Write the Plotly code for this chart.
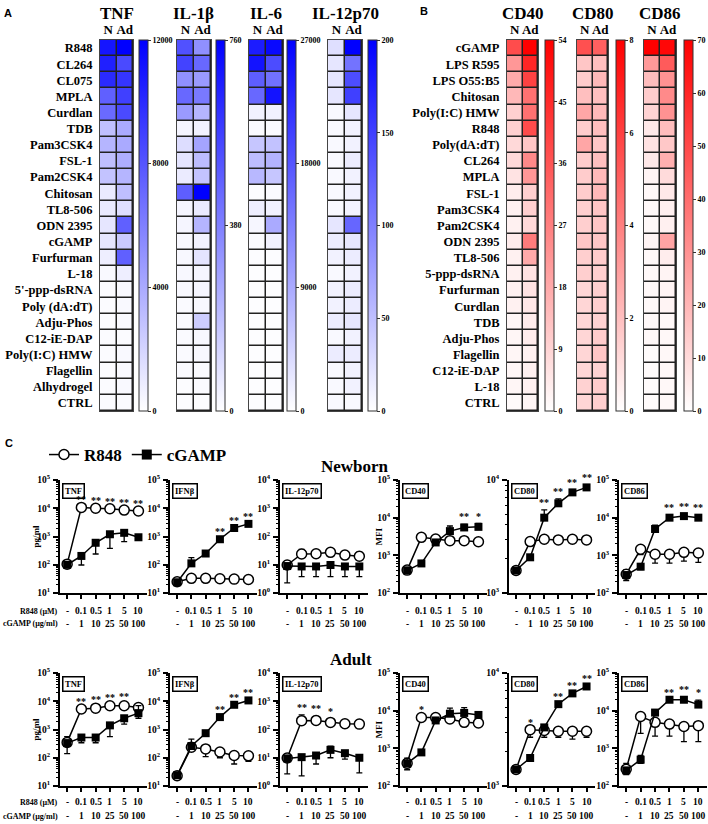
import math
import plotly.graph_objects as go

W, H = 708, 824
SERIF = "Liberation Serif"
SANS = "Liberation Sans"

# ---------------- Panel A data (cytokines, N = newborn, Ad = adult) ----------------
rows_A = ["R848", "CL264", "CL075", "MPLA", "Curdlan", "TDB", "Pam3CSK4", "FSL-1",
          "Pam2CSK4", "Chitosan", "TL8-506", "ODN 2395", "cGAMP", "Furfurman", "L-18",
          "5'-ppp-dsRNA", "Poly (dA:dT)", "Adju-Phos", "C12-iE-DAP", "Poly(I:C) HMW",
          "Flagellin", "Alhydrogel", "CTRL"]
TNF_N = [11000, 10500, 10000, 7500, 7000, 3000, 3500, 3000, 2800, 1000, 1000, 1200, 1200,
         800, 300, 200, 200, 200, 200, 200, 200, 200, 200]
TNF_Ad = [12000, 8500, 9500, 9000, 8500, 4000, 4000, 3800, 3500, 3000, 1500, 7500, 2500,
          7500, 800, 300, 300, 300, 200, 300, 300, 300, 200]
IL1b_N = [520, 560, 330, 450, 300, 30, 100, 80, 60, 480, 30, 30, 20, 20, 20, 20, 15, 15,
          15, 15, 15, 10, 10]
IL1b_Ad = [330, 450, 300, 400, 220, 40, 270, 200, 180, 760, 60, 220, 40, 80, 30, 30, 20,
           150, 20, 20, 15, 15, 10]
IL6_N = [24000, 25000, 17000, 16000, 1500, 500, 6000, 7000, 7500, 300, 1800, 1000, 500,
         300, 200, 200, 200, 200, 200, 200, 200, 200, 200]
IL6_Ad = [26000, 19000, 15000, 25000, 1500, 500, 6500, 8000, 6000, 500, 1500, 9000, 1500,
          300, 200, 200, 200, 200, 200, 200, 200, 200, 200]
IL12_N = [25, 20, 20, 20, 5, 5, 5, 5, 5, 5, 5, 20, 15, 10, 5, 10, 10, 15, 5, 15, 5, 5, 5]
IL12_Ad = [200, 110, 140, 150, 20, 10, 10, 15, 10, 10, 10, 120, 20, 15, 10, 15, 15, 20,
           10, 15, 10, 10, 5]

# ---------------- Panel B data (surface markers) ----------------
rows_B = ["cGAMP", "LPS R595", "LPS O55:B5", "Chitosan", "Poly(I:C) HMW", "R848",
          "Poly(dA:dT)", "CL264", "MPLA", "FSL-1", "Pam3CSK4", "Pam2CSK4", "ODN 2395",
          "TL8-506", "5-ppp-dsRNA", "Furfurman", "Curdlan", "TDB", "Adju-Phos",
          "Flagellin", "C12-iE-DAP", "L-18", "CTRL"]
CD40_N = [38, 22, 18, 15, 10, 10, 8, 8, 6, 4, 3, 3, 4, 3, 3, 3, 3, 2, 2, 2, 2, 2, 1]
CD40_Ad = [54, 46, 40, 30, 30, 38, 12, 25, 22, 10, 10, 8, 28, 18, 6, 6, 5, 4, 4, 3, 3, 3, 2]
CD80_N = [5.5, 1.8, 1.6, 2.0, 2.8, 1.6, 2.8, 1.6, 1.6, 1.6, 1.5, 1.5, 1.8, 1.5, 1.5, 1.3,
          1.3, 1.3, 1.3, 1.3, 1.3, 1.4, 1.3]
CD80_Ad = [5.0, 2.0, 2.2, 2.0, 2.2, 2.0, 1.8, 2.0, 2.2, 2.2, 1.8, 1.8, 1.8, 1.6, 1.5, 1.5,
           1.5, 1.4, 1.6, 1.8, 1.4, 1.6, 1.5]
CD86_N = [70, 28, 18, 14, 12, 6, 8, 6, 3, 2, 2, 2, 3, 2, 2, 2, 2, 2, 2, 1, 1, 1, 1]
CD86_Ad = [68, 45, 30, 32, 30, 18, 15, 22, 10, 6, 4, 4, 25, 5, 3, 3, 3, 2, 2, 2, 2, 2, 2]

# ---------------- Panel C data ----------------
dose_R848 = ["-", "0.1", "0.5", "1", "5", "10"]
dose_cGAMP = ["-", "1", "10", "25", "50", "100"]

# Newborn
nb_TNF_R = [105, 10700, 10000, 9600, 8600, 8000]
nb_TNF_R_up = [20, 0, 0, 0, 0, 0]
nb_TNF_R_dn = [25, 0, 0, 0, 0, 0]
nb_TNF_C = [100, 205, 600, 1200, 1350, 940]
nb_TNF_C_up = [0, 0, 0, 0, 0, 0]
nb_TNF_C_dn = [0, 107, 360, 820, 690, 0]
nb_TNF_stars = ["", "**", "**", "**", "**", "**"]

nb_IFN_R = [25, 33, 33, 32, 31, 30]
nb_IFN_R_up = [0, 0, 0, 0, 0, 0]
nb_IFN_R_dn = [0, 0, 0, 0, 0, 0]
nb_IFN_C = [24, 112, 250, 800, 2000, 2800]
nb_IFN_C_up = [4, 66, 0, 0, 0, 0]
nb_IFN_C_dn = [3, 0, 0, 0, 0, 0]
nb_IFN_stars = ["", "", "", "**", "**", "**"]

nb_IL12_R = [9.8, 24, 24.5, 27.5, 22, 20]
nb_IL12_R_up = [3.7, 11, 10, 8, 8, 8]
nb_IL12_R_dn = [0, 0, 0, 0, 0, 0]
nb_IL12_C = [9, 8.7, 8.7, 9.8, 8.7, 8.7]
nb_IL12_C_up = [0, 0, 0, 0, 0, 0]
nb_IL12_C_dn = [6.7, 4.9, 4.9, 6, 4.9, 4.9]
nb_IL12_stars = ["", "", "", "", "", ""]

nb_CD40_R = [405, 3000, 2700, 2450, 2450, 2300]
nb_CD40_R_up = [0, 0, 0, 0, 0, 0]
nb_CD40_R_dn = [0, 0, 0, 0, 0, 0]
nb_CD40_C = [400, 610, 2200, 4400, 5500, 5700]
nb_CD40_C_up = [0, 0, 0, 1600, 1100, 1300]
nb_CD40_C_dn = [0, 0, 0, 0, 0, 0]
nb_CD40_stars = ["", "", "", "", "**", "*"]

nb_CD80_R = [1580, 2850, 2990, 2950, 2990, 2950]
nb_CD80_R_up = [0, 0, 0, 0, 0, 0]
nb_CD80_R_dn = [0, 0, 0, 0, 0, 0]
nb_CD80_C = [1580, 2070, 4640, 6220, 7770, 8600]
nb_CD80_C_up = [0, 0, 790, 600, 400, 400]
nb_CD80_C_dn = [0, 0, 0, 0, 0, 0]
nb_CD80_stars = ["", "", "**", "**", "**", "**"]

nb_CD86_R = [315, 1450, 1070, 1070, 1200, 1150]
nb_CD86_R_up = [95, 0, 0, 0, 0, 0]
nb_CD86_R_dn = [100, 400, 450, 450, 500, 500]
nb_CD86_C = [300, 500, 5000, 10000, 11000, 10000]
nb_CD86_C_up = [0, 0, 1300, 1500, 1500, 1500]
nb_CD86_C_dn = [0, 80, 0, 0, 0, 0]
nb_CD86_stars = ["", "", "", "**", "**", "**"]

# Adult
ad_TNF_R = [350, 5300, 5700, 6900, 6900, 6000]
ad_TNF_R_up = [210, 0, 700, 500, 800, 2000]
ad_TNF_R_dn = [210, 0, 0, 0, 0, 0]
ad_TNF_C = [330, 520, 520, 1400, 2500, 3800]
ad_TNF_C_up = [0, 70, 70, 0, 0, 3200]
ad_TNF_C_dn = [0, 180, 180, 840, 950, 1300]
ad_TNF_stars = ["", "**", "**", "**", "**", ""]

ad_IFN_R = [23, 235, 205, 160, 120, 117]
ad_IFN_R_up = [3, 220, 0, 0, 0, 0]
ad_IFN_R_dn = [3, 0, 95, 60, 60, 42]
ad_IFN_C = [24, 260, 740, 2750, 7500, 10700]
ad_IFN_C_up = [0, 0, 0, 0, 0, 0]
ad_IFN_C_dn = [0, 0, 0, 0, 0, 0]
ad_IFN_stars = ["", "", "", "**", "**", "**"]

ad_IL12_R = [9.8, 205, 210, 178, 160, 155]
ad_IL12_R_up = [3.7, 125, 80, 50, 60, 60]
ad_IL12_R_dn = [0, 0, 0, 0, 0, 0]
ad_IL12_C = [9.5, 10.5, 12, 19, 14.5, 10]
ad_IL12_C_up = [0, 0, 0, 7, 0, 0]
ad_IL12_C_dn = [6.8, 8.2, 6, 9, 5.5, 7.1]
ad_IL12_stars = ["", "**", "**", "*", "", ""]

ad_CD40_R = [400, 6600, 6600, 6000, 4900, 4700]
ad_CD40_R_up = [0, 0, 0, 0, 0, 0]
ad_CD40_R_dn = [130, 0, 0, 1200, 0, 0]
ad_CD40_C = [400, 780, 5500, 8300, 8700, 7700]
ad_CD40_C_up = [150, 0, 0, 3400, 3300, 0]
ad_CD40_C_dn = [0, 0, 0, 0, 0, 0]
ad_CD40_stars = ["", "*", "", "", "", ""]

ad_CD80_R = [1400, 3150, 3100, 3050, 3050, 3050]
ad_CD80_R_up = [0, 0, 0, 0, 0, 0]
ad_CD80_R_dn = [0, 450, 400, 350, 450, 350]
ad_CD80_C = [1400, 1770, 3300, 5300, 6600, 7600]
ad_CD80_C_up = [0, 0, 0, 0, 0, 0]
ad_CD80_C_dn = [0, 0, 0, 0, 0, 0]
ad_CD80_stars = ["", "*", "", "**", "**", "**"]

ad_CD86_R = [280, 7000, 4900, 4400, 3800, 4000]
ad_CD86_R_up = [120, 0, 0, 0, 0, 0]
ad_CD86_R_dn = [80, 4500, 2800, 2300, 2300, 2500]
ad_CD86_C = [260, 500, 8900, 19500, 19500, 14500]
ad_CD86_C_up = [0, 150, 0, 0, 3000, 4500]
ad_CD86_C_dn = [0, 100, 0, 0, 0, 0]
ad_CD86_stars = ["", "", "", "**", "**", "*"]

# ---------------- helpers ----------------
def px_x(p):
    return p / W


def px_y(p):
    return 1 - p / H


def axnames(i):
    xs = "x" if i == 1 else f"x{i}"
    ys = "y" if i == 1 else f"y{i}"
    xk = "xaxis" if i == 1 else f"xaxis{i}"
    yk = "yaxis" if i == 1 else f"yaxis{i}"
    return xs, ys, xk, yk


fig = go.Figure()
layout = {}
anns = []
shapes = []

BLUE = [[0, "#FFFFFF"], [1, "#0000FF"]]
RED = [[0, "#FFFFFF"], [1, "#FF0000"]]

HM_TOP, HM_BOT = 40, 411
heatmaps = [
    ("TNF", TNF_N, TNF_Ad, rows_A, 12000, [0, 4000, 8000, 12000], (100, 133), 139, BLUE, True),
    ("IL-1β", IL1b_N, IL1b_Ad, rows_A, 760, [0, 380, 760], (177, 211), 216, BLUE, False),
    ("IL-6", IL6_N, IL6_Ad, rows_A, 27000, [0, 9000, 18000, 27000], (249, 283), 287, BLUE, False),
    ("IL-12p70", IL12_N, IL12_Ad, rows_A, 200, [0, 50, 100, 150, 200], (328, 362), 368, BLUE, False),
    ("CD40", CD40_N, CD40_Ad, rows_B, 54, [0, 9, 18, 27, 36, 45, 54], (507, 538), 545, RED, True),
    ("CD80", CD80_N, CD80_Ad, rows_B, 8, [0, 2, 4, 6, 8], (577, 608), 616, RED, False),
    ("CD86", CD86_N, CD86_Ad, rows_B, 70, [0, 10, 20, 30, 40, 50, 60, 70], (644, 676), 684, RED, False),
]

i = 0
for title, zn, za, rows, zmax, tv, (xa, xb), cbx, cs, showlab in heatmaps:
    i += 1
    xs, ys, xk, yk = axnames(i)
    z = [[n, a] for n, a in zip(zn, za)]
    fig.add_trace(go.Heatmap(
        z=z, x=["N", "Ad"], y=rows, colorscale=cs, zmin=0, zmax=zmax,
        xgap=1.5, ygap=1.5, xaxis=xs, yaxis=ys, hoverinfo="skip",
        colorbar=dict(x=px_x(cbx), xanchor="left", xref="paper", y=px_y(HM_TOP),
                      yanchor="top", yref="paper",
                      len=(HM_BOT - HM_TOP) / H, lenmode="fraction", thickness=9,
                      outlinewidth=1, outlinecolor="#333", tickmode="array", tickvals=tv,
                      tickformat="d", ticks="outside",
                      ticklen=3, tickcolor="#333", xpad=0, ypad=0,
                      tickfont=dict(family=SERIF, size=8, color="black", weight="bold"))))
    layout[xk] = dict(domain=[px_x(xa), px_x(xb)], anchor=ys, side="top", type="category",
                      range=[-0.5, 1.5], tickmode="array", tickvals=["N", "Ad"],
                      ticktext=["N", "Ad"], tickangle=0, ticks="", showline=True, mirror=True,
                      linecolor="#444", linewidth=1, showgrid=False, zeroline=False,
                      automargin=False,
                      tickfont=dict(family=SERIF, size=13, color="black", weight="bold"),
                      ticklabelstandoff=0, fixedrange=True)
    layout[yk] = dict(domain=[px_y(HM_BOT), px_y(HM_TOP)], anchor=xs, type="category",
                      autorange="reversed", ticks="", showline=True, mirror=True,
                      linecolor="#444", linewidth=1, showgrid=False, zeroline=False,
                      showticklabels=showlab, ticklabelstandoff=4, automargin=False,
                      tickmode="array", tickvals=rows, ticktext=rows, tickangle=0,
                      tickfont=dict(family=SERIF, size=12.5, color="black", weight="bold"))
    shapes.append(dict(type="rect", xref=f"{xs} domain", yref=f"{ys} domain", x0=0, x1=1,
                       y0=0, y1=1, fillcolor="#222", line=dict(width=0), layer="below"))
    anns.append(dict(text=title, x=px_x((xa + xb) / 2), y=px_y(13), xref="paper", yref="paper",
                     showarrow=False, xanchor="center", yanchor="middle",
                     font=dict(family=SERIF, size=17, color="black", weight="bold")))

# ---------------- line plots ----------------
cols_x = [(60, 147), (170, 257), (280, 368), (400, 487), (509, 595), (619, 707)]
rows_y = [(480, 593), (673, 786)]
dose_rows = [(611, 623.5), (802, 816)]
yranges = [(1, 5), (1, 5), (0, 4), (2, 5), (3, 4), (2, 5)]
labels = ["TNF", "IFNβ", "IL-12p70", "CD40", "CD80", "CD86"]

newborn = [
    (nb_TNF_R, nb_TNF_R_up, nb_TNF_R_dn, nb_TNF_C, nb_TNF_C_up, nb_TNF_C_dn, nb_TNF_stars),
    (nb_IFN_R, nb_IFN_R_up, nb_IFN_R_dn, nb_IFN_C, nb_IFN_C_up, nb_IFN_C_dn, nb_IFN_stars),
    (nb_IL12_R, nb_IL12_R_up, nb_IL12_R_dn, nb_IL12_C, nb_IL12_C_up, nb_IL12_C_dn, nb_IL12_stars),
    (nb_CD40_R, nb_CD40_R_up, nb_CD40_R_dn, nb_CD40_C, nb_CD40_C_up, nb_CD40_C_dn, nb_CD40_stars),
    (nb_CD80_R, nb_CD80_R_up, nb_CD80_R_dn, nb_CD80_C, nb_CD80_C_up, nb_CD80_C_dn, nb_CD80_stars),
    (nb_CD86_R, nb_CD86_R_up, nb_CD86_R_dn, nb_CD86_C, nb_CD86_C_up, nb_CD86_C_dn, nb_CD86_stars),
]
adult = [
    (ad_TNF_R, ad_TNF_R_up, ad_TNF_R_dn, ad_TNF_C, ad_TNF_C_up, ad_TNF_C_dn, ad_TNF_stars),
    (ad_IFN_R, ad_IFN_R_up, ad_IFN_R_dn, ad_IFN_C, ad_IFN_C_up, ad_IFN_C_dn, ad_IFN_stars),
    (ad_IL12_R, ad_IL12_R_up, ad_IL12_R_dn, ad_IL12_C, ad_IL12_C_up, ad_IL12_C_dn, ad_IL12_stars),
    (ad_CD40_R, ad_CD40_R_up, ad_CD40_R_dn, ad_CD40_C, ad_CD40_C_up, ad_CD40_C_dn, ad_CD40_stars),
    (ad_CD80_R, ad_CD80_R_up, ad_CD80_R_dn, ad_CD80_C, ad_CD80_C_up, ad_CD80_C_dn, ad_CD80_stars),
    (ad_CD86_R, ad_CD86_R_up, ad_CD86_R_dn, ad_CD86_C, ad_CD86_C_up, ad_CD86_C_dn, ad_CD86_stars),
]

xpos = list(range(6))
circ = dict(symbol="circle", size=10, color="white", line=dict(color="black", width=1.5))
sq = dict(symbol="square", size=8, color="black", line=dict(color="black", width=0))
tickfont = dict(family=SERIF, size=9.5, color="black", weight="bold")
rowfont = dict(family=SERIF, size=8, color="black", weight="bold")

for r, group in enumerate([newborn, adult]):
    top, bot = rows_y[r]
    for c, (R, Ru, Rd, C, Cu, Cd, stars) in enumerate(group):
        i += 1
        xs, ys, xk, yk = axnames(i)
        xa, xb = cols_x[c]
        lo, hi = yranges[c]
        fig.add_trace(go.Scatter(
            x=xpos, y=R, mode="lines+markers", xaxis=xs, yaxis=ys, showlegend=False,
            line=dict(color="black", width=1.5), marker=circ, hoverinfo="skip",
            error_y=dict(type="data", symmetric=False, array=Ru, arrayminus=Rd,
                         color="black", thickness=1.3, width=3)))
        fig.add_trace(go.Scatter(
            x=xpos, y=C, mode="lines+markers", xaxis=xs, yaxis=ys, showlegend=False,
            line=dict(color="black", width=1.5), marker=sq, hoverinfo="skip",
            error_y=dict(type="data", symmetric=False, array=Cu, arrayminus=Cd,
                         color="black", thickness=1.3, width=3)))
        layout[xk] = dict(domain=[px_x(xa), px_x(xb)], anchor=ys, range=[-0.5, 5.6],
                          tickvals=xpos, showticklabels=False, ticks="outside", ticklen=4,
                          tickwidth=1.5, tickcolor="black", showline=True, linewidth=2,
                          linecolor="black", showgrid=False, zeroline=False, automargin=False)
        layout[yk] = dict(domain=[px_y(bot), px_y(top)], anchor=xs, type="log",
                          range=[lo, hi], tickmode="array",
                          tickvals=[10 ** k for k in range(lo, hi + 1)],
                          ticktext=[f"10<sup>{k}</sup>" for k in range(lo, hi + 1)],
                          ticks="outside", ticklen=5, tickwidth=1.5, tickcolor="black",
                          showline=True, linewidth=2, linecolor="black", showgrid=False,
                          zeroline=False, tickfont=tickfont, ticklabelstandoff=1,
                          automargin=False,
                          minor=dict(ticks="outside", ticklen=2.5, tickwidth=1,
                                     tickcolor="black", tickmode="array", showgrid=False,
                                     tickvals=[m * 10 ** k for k in range(lo, hi)
                                               for m in range(2, 10)]))
        # panel label box
        anns.append(dict(text=labels[c], xref=f"{xs} domain", yref=f"{ys} domain",
                         x=0.02, y=0.975, xanchor="left", yanchor="top", showarrow=False,
                         bordercolor="black", borderwidth=1.5, borderpad=1.5, bgcolor="white",
                         font=dict(family=SERIF, size=8.5, color="black", weight="bold")))
        # significance stars
        for k in range(6):
            if stars[k]:
                topv = max(R[k] + Ru[k], C[k] + Cu[k])
                anns.append(dict(text=stars[k], xref=xs, yref=ys, x=k, y=math.log10(topv),
                                 xanchor="center", yanchor="bottom", yshift=0,
                                 showarrow=False,
                                 font=dict(family=SERIF, size=10, color="black", weight="bold")))
        # dose rows
        yr1, yr2 = dose_rows[r]
        for k in range(6):
            anns.append(dict(text=dose_R848[k], xref=xs, yref="paper", x=k, y=px_y(yr1),
                             xanchor="center", yanchor="middle", showarrow=False, font=tickfont))
            anns.append(dict(text=dose_cGAMP[k], xref=xs, yref="paper", x=k, y=px_y(yr2),
                             xanchor="center", yanchor="middle", showarrow=False, font=tickfont))
        if c == 0:
            anns.append(dict(text="R848 (µM)", xref="paper", yref="paper", x=px_x(60),
                             y=px_y(yr1), xanchor="right", yanchor="middle", showarrow=False,
                             font=rowfont))
            anns.append(dict(text="cGAMP (µg/ml)", xref="paper", yref="paper", x=px_x(60),
                             y=px_y(yr2), xanchor="right", yanchor="middle", showarrow=False,
                             font=rowfont))
            anns.append(dict(text="pg/ml", xref="paper", yref="paper", x=px_x(35),
                             y=px_y((top + bot) / 2), textangle=-90, xanchor="center",
                             yanchor="middle", showarrow=False,
                             font=dict(family=SERIF, size=9, color="black", weight="bold")))
        if c == 3:
            anns.append(dict(text="MFI", xref="paper", yref="paper", x=px_x(378),
                             y=px_y((top + bot) / 2), textangle=-90, xanchor="center",
                             yanchor="middle", showarrow=False,
                             font=dict(family=SERIF, size=9, color="black", weight="bold")))

# legend-only traces
fig.add_trace(go.Scatter(x=[None], y=[None], mode="lines+markers", name="R848",
                         xaxis="x8", yaxis="y8", line=dict(color="black", width=1.5),
                         marker=circ))
fig.add_trace(go.Scatter(x=[None], y=[None], mode="lines+markers", name="cGAMP",
                         xaxis="x8", yaxis="y8", line=dict(color="black", width=1.5),
                         marker=dict(symbol="square", size=10, color="black")))

# panel letters and group titles
for txt, x, y in [("A", 8, 13), ("B", 424, 11), ("C", 9, 443)]:
    anns.append(dict(text=txt, xref="paper", yref="paper", x=px_x(x), y=px_y(y),
                     xanchor="center", yanchor="middle", showarrow=False,
                     font=dict(family=SANS, size=11, color="black", weight="bold")))
for txt, x, y in [("Newborn", 355, 466), ("Adult", 351, 659)]:
    anns.append(dict(text=txt, xref="paper", yref="paper", x=px_x(x), y=px_y(y),
                     xanchor="center", yanchor="middle", showarrow=False,
                     font=dict(family=SERIF, size=17, color="black", weight="bold")))

layout.update(dict(
    width=W, height=H, margin=dict(l=0, r=0, t=0, b=0, autoexpand=False),
    paper_bgcolor="white", plot_bgcolor="white",
    font=dict(family=SERIF, color="black"),
    showlegend=True,
    legend=dict(orientation="h", x=px_x(44), y=px_y(437), xanchor="left", yanchor="top",
                font=dict(family=SERIF, size=17, color="black", weight="bold"),
                bgcolor="rgba(0,0,0,0)", itemwidth=30, tracegroupgap=0),
    annotations=anns, shapes=shapes,
))
fig.update_layout(**layout)
# remove the browser's default 8px body margin so the figure sits at the page origin
fig.write_html("out.html", config={"displayModeBar": False},
               post_script="document.body.style.margin='0';")
